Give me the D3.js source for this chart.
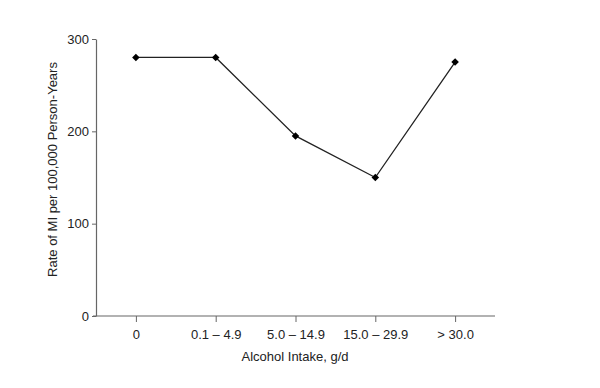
<!DOCTYPE html>
<html>
<head>
<meta charset="utf-8">
<script src="https://cdn.jsdelivr.net/npm/d3@7"></script>
<style>
body { margin: 0; background: #fff; }
text { font-family: "Liberation Sans", Arial, sans-serif; }
</style>
</head>
<body>
<div id="chart"></div>
<script>
var categories = ['0', '0.1 \u2013 4.9', '5.0 \u2013 14.9', '15.0 \u2013 29.9', '> 30.0'];
var rates = [280, 280, 195, 150, 275];
var y_ticks = [0, 100, 200, 300];

var chart_width = 600;
var chart_height = 388;
var plot_left = 96, plot_right = 495, plot_top = 39, plot_bottom = 316;

var svg = d3.select('#chart')
    .append('svg')
    .attr('width', chart_width)
    .attr('height', chart_height)

var x_scale = d3.scalePoint()
    .domain(categories)
    .range([plot_left, plot_right])
    .padding(0.5)

var y_scale = d3.scaleLinear()
    .domain([0, 300])
    .range([plot_bottom, plot_top])

// y axis
var y_axis = svg.append('g')
    .attr('transform', 'translate(' + plot_left + ',0)')
    .call(d3.axisLeft(y_scale).tickValues(y_ticks).tickSize(4).tickSizeOuter(0))
y_axis.select('.domain').attr('stroke', '#666').attr('stroke-width', 1.2)
y_axis.selectAll('.tick line').attr('stroke', '#666')
y_axis.selectAll('.tick text').attr('font-size', 13).attr('fill', '#222').attr('x', -7)

// x axis
var x_axis = svg.append('g')
    .attr('transform', 'translate(0,' + plot_bottom + ')')
    .call(d3.axisBottom(x_scale).tickSize(6).tickSizeOuter(0))
x_axis.select('.domain').attr('stroke', '#666').attr('stroke-width', 1.2)
    .attr('d', 'M' + (plot_left - 3) + ',0H' + plot_right)
x_axis.selectAll('.tick line').attr('stroke', '#666')
x_axis.selectAll('.tick text').attr('font-size', 13).attr('fill', '#222').attr('y', 14)

// axis titles
svg.append('text')
    .text('Alcohol Intake, g/d')
    .attr('x', 295)
    .attr('y', 361)
    .attr('font-size', 13)
    .attr('fill', '#222')
    .attr('text-anchor', 'middle')

svg.append('text')
    .text('Rate of MI per 100,000 Person-Years')
    .attr('transform', 'translate(57,' + ((plot_top + plot_bottom) / 2 - 8) + ') rotate(-90)')
    .attr('font-size', 13)
    .attr('fill', '#222')
    .attr('text-anchor', 'middle')

// line
var line = d3.line()
    .x(function (d, i) { return x_scale(categories[i]); })
    .y(function (d) { return y_scale(d); })

svg.append('path')
    .datum(rates)
    .attr('d', line)
    .attr('fill', 'none')
    .attr('stroke', '#222')
    .attr('stroke-width', 1.3)

// diamond markers
svg.selectAll('.pt')
    .data(rates)
    .enter()
    .append('path')
    .attr('class', 'pt')
    .attr('d', d3.symbol().type(d3.symbolDiamond2).size(36))
    .attr('transform', function (d, i) {
        return 'translate(' + x_scale(categories[i]) + ',' + y_scale(d) + ')';
    })
    .attr('fill', '#000')
</script>
</body>
</html>
